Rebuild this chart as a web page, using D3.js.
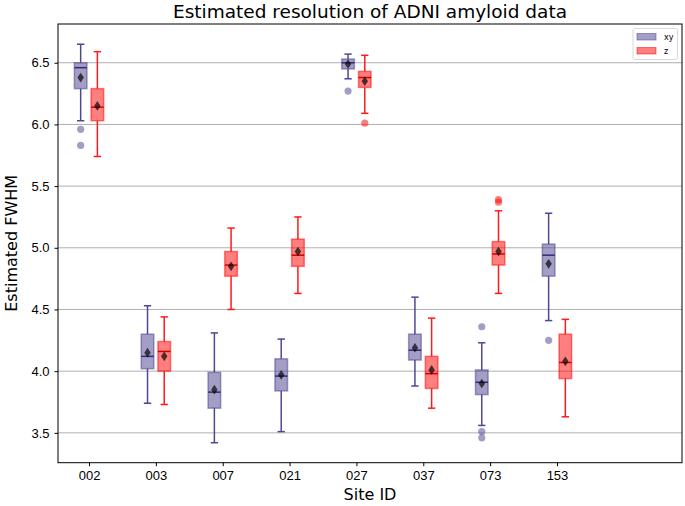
<!DOCTYPE html>
<html>
<head>
<meta charset="utf-8">
<script src="https://cdn.jsdelivr.net/npm/d3@7"></script>
<style>
  body { margin: 0; background: #fff; }
  svg { font-family: "DejaVu Sans", sans-serif; }
</style>
</head>
<body>
<svg id="chart" width="685" height="506"></svg>
<script>
// site ids along the x axis
var sites = ["002", "003", "007", "021", "027", "037", "073", "153"];
var yTicks = [3.5, 4.0, 4.5, 5.0, 5.5, 6.0, 6.5];

// xy series: [whisker low, q1, median, q3, whisker high]
var xyBoxes = [
  [6.03, 6.29, 6.46, 6.50, 6.65],
  [3.74, 4.02, 4.12, 4.30, 4.53],
  [3.42, 3.70, 3.83, 3.99, 4.31],
  [3.51, 3.84, 3.96, 4.10, 4.26],
  [6.37, 6.45, 6.50, 6.53, 6.57],
  [3.88, 4.09, 4.17, 4.30, 4.60],
  [3.56, 3.81, 3.91, 4.01, 4.23],
  [4.41, 4.77, 4.94, 5.03, 5.28]
];
var xyMeans = [6.38, 4.15, 3.85, 3.97, 6.49, 4.19, 3.90, 4.87];
var xyOutliers = [[5.96, 5.83], [], [], [], [6.27], [], [4.36, 3.51, 3.46], [4.25]];

// z series
var zBoxes = [
  [5.74, 6.03, 6.14, 6.29, 6.59],
  [3.73, 4.00, 4.16, 4.24, 4.44],
  [4.50, 4.77, 4.86, 4.97, 5.16],
  [4.63, 4.85, 4.94, 5.07, 5.25],
  [6.09, 6.30, 6.38, 6.43, 6.56],
  [3.70, 3.86, 3.98, 4.12, 4.43],
  [4.63, 4.86, 4.95, 5.05, 5.30],
  [3.63, 3.94, 4.07, 4.30, 4.42]
];
var zMeans = [6.15, 4.12, 4.85, 4.97, 6.35, 4.01, 4.97, 4.08];
var zOutliers = [[], [], [], [], [6.01], [], [5.39, 5.37], []];

var svg = d3.select("#chart");
var plotL = 58, plotR = 682, plotT = 24, plotB = 462.7;

var x = d3.scaleLinear().domain([0.536, 9.87]).range([plotL, plotR]);
var y = d3.scaleLinear().domain([3.258, 6.814]).range([plotB, plotT]);

// grid
svg.append("g")
    .selectAll("line")
    .data(yTicks)
    .enter().append("line")
    .attr("x1", plotL).attr("x2", plotR)
    .attr("y1", function(d) { return y(d); })
    .attr("y2", function(d) { return y(d); })
    .style("stroke", "#b0b0b0")
    .style("stroke-width", 1);

var series = [
  {name: "xy", boxes: xyBoxes, means: xyMeans, outliers: xyOutliers, off: -0.125,
   fill: "rgba(72,61,139,0.5)", line: "#4f4794", median: "#2f2a7a"},
  {name: "z", boxes: zBoxes, means: zMeans, outliers: zOutliers, off: 0.125,
   fill: "rgba(255,0,0,0.5)", line: "#ff1a1a", median: "#d00000"}
];

var boxW = 0.188, capW = 0.11;

series.forEach(function(s) {
    var g = svg.append("g");
    s.boxes.forEach(function(b, i) {
        var cx = x(i + 1 + s.off);
        var hw = x(boxW / 2) - x(0);
        var cw = x(capW / 2) - x(0);
        // whiskers
        g.append("line").attr("x1", cx).attr("x2", cx)
            .attr("y1", y(b[0])).attr("y2", y(b[1]))
            .style("stroke", s.line).style("stroke-width", 1.5);
        g.append("line").attr("x1", cx).attr("x2", cx)
            .attr("y1", y(b[3])).attr("y2", y(b[4]))
            .style("stroke", s.line).style("stroke-width", 1.5);
        [b[0], b[4]].forEach(function(v) {
            g.append("line").attr("x1", cx - cw).attr("x2", cx + cw)
                .attr("y1", y(v)).attr("y2", y(v))
                .style("stroke", s.line).style("stroke-width", 1.5);
        });
        // box
        g.append("rect")
            .attr("x", cx - hw).attr("width", 2 * hw)
            .attr("y", y(b[3])).attr("height", y(b[1]) - y(b[3]))
            .style("fill", s.fill)
            .style("stroke", s.fill)
            .style("stroke-width", 1.5);
        // median
        g.append("line").attr("x1", cx - hw).attr("x2", cx + hw)
            .attr("y1", y(b[2])).attr("y2", y(b[2]))
            .style("stroke", s.median).style("stroke-width", 1.5);
        // outliers
        s.outliers[i].forEach(function(v) {
            g.append("circle").attr("cx", cx).attr("cy", y(v)).attr("r", 3.6)
                .style("fill", s.fill);
        });
    });
    // means
    g.selectAll("path.mean")
        .data(s.means)
        .enter().append("path")
        .attr("class", "mean")
        .attr("d", d3.symbol().type(d3.symbolDiamond).size(30))
        .attr("transform", function(d, i) {
            return "translate(" + x(i + 1 + s.off) + "," + y(d) + ") scale(1.1,0.95)";
        })
        .style("fill", "rgba(0,0,0,0.68)");
});

// frame
svg.append("rect")
    .attr("x", plotL).attr("y", plotT)
    .attr("width", plotR - plotL).attr("height", plotB - plotT)
    .style("fill", "none").style("stroke", "#000").style("stroke-width", 1);

// axes
var xAxis = d3.axisBottom(x)
    .tickValues(d3.range(1, sites.length + 1))
    .tickFormat(function(d) { return sites[d - 1]; })
    .tickSizeOuter(0).tickSize(3.5).tickPadding(5);
var gx = svg.append("g").attr("transform", "translate(0," + plotB + ")").call(xAxis);
gx.select(".domain").remove();
gx.selectAll("text").style("font-size", "13px").style("fill", "#000");

var yAxis = d3.axisLeft(y)
    .tickValues(yTicks)
    .tickFormat(d3.format(".1f"))
    .tickSizeOuter(0).tickSize(3.5).tickPadding(5);
var gy = svg.append("g").attr("transform", "translate(" + plotL + ",0)").call(yAxis);
gy.select(".domain").remove();
gy.selectAll("text").style("font-size", "13px").style("fill", "#000");

// labels
svg.append("text")
    .attr("x", (plotL + plotR) / 2).attr("y", 18)
    .attr("text-anchor", "middle")
    .style("font-size", "18.5px")
    .text("Estimated resolution of ADNI amyloid data");

svg.append("text")
    .attr("x", (plotL + plotR) / 2).attr("y", 500)
    .attr("text-anchor", "middle")
    .style("font-size", "16px")
    .text("Site ID");

svg.append("text")
    .attr("transform", "translate(17," + ((plotT + plotB) / 2) + ") rotate(-90)")
    .attr("text-anchor", "middle")
    .style("font-size", "16px")
    .text("Estimated FWHM");

// legend
var lg = svg.append("g").attr("transform", "translate(633,28.5)");
lg.append("rect").attr("width", 44.5).attr("height", 31).attr("rx", 2)
    .style("fill", "rgba(255,255,255,0.8)").style("stroke", "#d8d8d8");
series.forEach(function(s, i) {
    lg.append("rect").attr("x", 4).attr("y", 5 + i * 14).attr("width", 19).attr("height", 6.5)
        .style("fill", s.fill).style("stroke", s.fill);
    lg.append("text").attr("x", 31).attr("y", 11.5 + i * 14)
        .style("font-size", "8px").text(s.name);
});
</script>
</body>
</html>
